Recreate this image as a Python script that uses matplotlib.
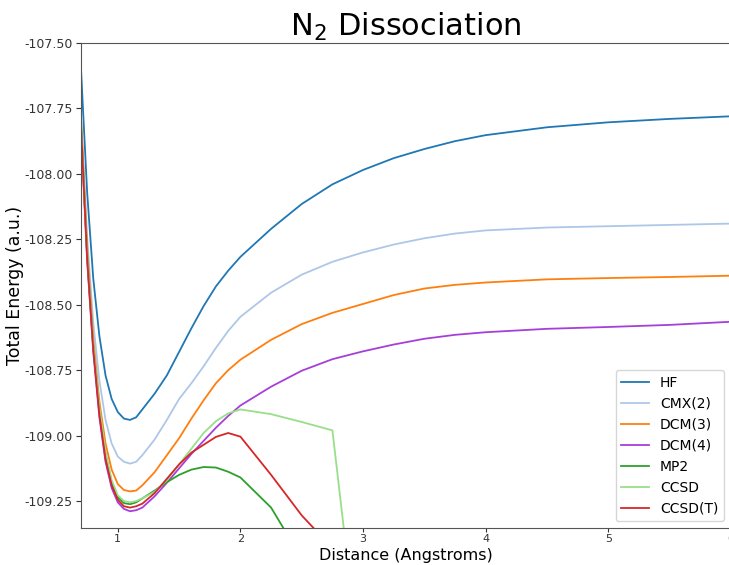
import numpy as np
import matplotlib
matplotlib.use("Agg")
import matplotlib.pyplot as plt

nan = np.nan
distance = [0.7, 0.75, 0.8, 0.85, 0.9, 0.95, 1.0, 1.05, 1.1, 1.15, 1.2, 1.3, 1.4,
            1.5, 1.6, 1.7, 1.8, 1.9, 2.0, 2.25, 2.5, 2.75, 3.0, 3.25, 3.5, 3.75,
            4.0, 4.5, 5.0, 5.5, 6.0]

hf = [-107.60, -108.07, -108.40, -108.62, -108.77, -108.86, -108.91, -108.935,
      -108.94, -108.93, -108.90, -108.84, -108.77, -108.68, -108.59, -108.505,
      -108.43, -108.37, -108.317, -108.21, -108.115, -108.04, -107.985, -107.94,
      -107.905, -107.875, -107.852, -107.822, -107.803, -107.79, -107.78]
cmx2 = [-107.76, -108.24, -108.57, -108.79, -108.94, -109.03, -109.08, -109.10,
        -109.107, -109.10, -109.075, -109.015, -108.94, -108.86, -108.80, -108.735,
        -108.665, -108.60, -108.546, -108.454, -108.385, -108.336, -108.30, -108.27,
        -108.246, -108.228, -108.216, -108.205, -108.20, -108.195, -108.19]
dcm3 = [-107.79, -108.28, -108.63, -108.87, -109.03, -109.13, -109.185, -109.208,
        -109.213, -109.21, -109.19, -109.14, -109.075, -109.01, -108.935, -108.865,
        -108.80, -108.75, -108.71, -108.634, -108.574, -108.531, -108.497, -108.463,
        -108.438, -108.424, -108.415, -108.403, -108.398, -108.394, -108.389]
dcm4 = [-107.83, -108.33, -108.68, -108.93, -109.10, -109.20, -109.255, -109.28,
        -109.289, -109.285, -109.275, -109.232, -109.18, -109.125, -109.07, -109.02,
        -108.97, -108.925, -108.885, -108.813, -108.752, -108.708, -108.678, -108.652,
        -108.63, -108.615, -108.605, -108.592, -108.585, -108.577, -108.565]
mp2 = [-107.82, -108.31, -108.66, -108.90, -109.07, -109.18, -109.235, -109.258,
       -109.262, -109.255, -109.24, -109.21, -109.178, -109.15, -109.13, -109.12,
       -109.122, -109.138, -109.16, -109.275, -109.47, -109.70, nan, nan, nan, nan,
       nan, nan, nan, nan, nan]
ccsd = [-107.81, -108.30, -108.65, -108.89, -109.06, -109.17, -109.228, -109.25,
        -109.255, -109.25, -109.24, -109.215, -109.17, -109.11, -109.05, -108.99,
        -108.945, -108.915, -108.90, -108.918, -108.948, -108.98, -109.99, nan, nan,
        nan, nan, nan, nan, nan, nan]
ccsdt = [-107.82, -108.32, -108.67, -108.92, -109.09, -109.19, -109.245, -109.27,
         -109.275, -109.27, -109.26, -109.22, -109.165, -109.11, -109.065, -109.035,
         -109.005, -108.99, -109.004, -109.15, -109.305, -109.43, -109.55, nan, nan,
         nan, nan, nan, nan, nan, nan]

labels = ["HF", "CMX(2)", "DCM(3)", "DCM(4)", "MP2", "CCSD", "CCSD(T)"]
series = [hf, cmx2, dcm3, dcm4, mp2, ccsd, ccsdt]
colors = ["#1f77b4", "#aec7e8", "#ff7f0e", "#a63fd9", "#2ca02c", "#98df8a", "#d62728"]

fig = plt.figure(figsize=(7.29, 5.65), dpi=100)
ax = fig.add_axes([81 / 729, 1 - 528 / 565, 650 / 729, (528 - 43) / 565])

for vals, lab, col in zip(series, labels, colors):
    ax.plot(distance, vals, color=col, lw=1.3, label=lab)

ax.set_xlim(0.7, 6.0)
ax.set_ylim(-109.353, -107.5)
ax.set_yticks([-107.50, -107.75, -108.00, -108.25, -108.50, -108.75, -109.00, -109.25])
ax.yaxis.set_major_formatter(matplotlib.ticker.FormatStrFormatter("%.2f"))
ax.set_xticks([1, 2, 3, 4, 5, 6])
ax.tick_params(axis="y", labelsize=9, colors="#333333", pad=2.5)
ax.tick_params(axis="x", labelsize=8, colors="#333333", pad=1.5, length=3)
for s in ax.spines.values():
    s.set_color("#555555")

ax.set_title("N$_2$ Dissociation", fontsize=22, pad=5)
ax.set_xlabel("Distance (Angstroms)", fontsize=11.5)
ax.set_ylabel("Total Energy (a.u.)", fontsize=12.5)
ax.xaxis.set_label_coords(0.5, -0.041)
ax.yaxis.set_label_coords(-0.088, 0.5)
ax.legend(loc="lower right", fontsize=10)

fig.savefig("out.png", dpi=100)
